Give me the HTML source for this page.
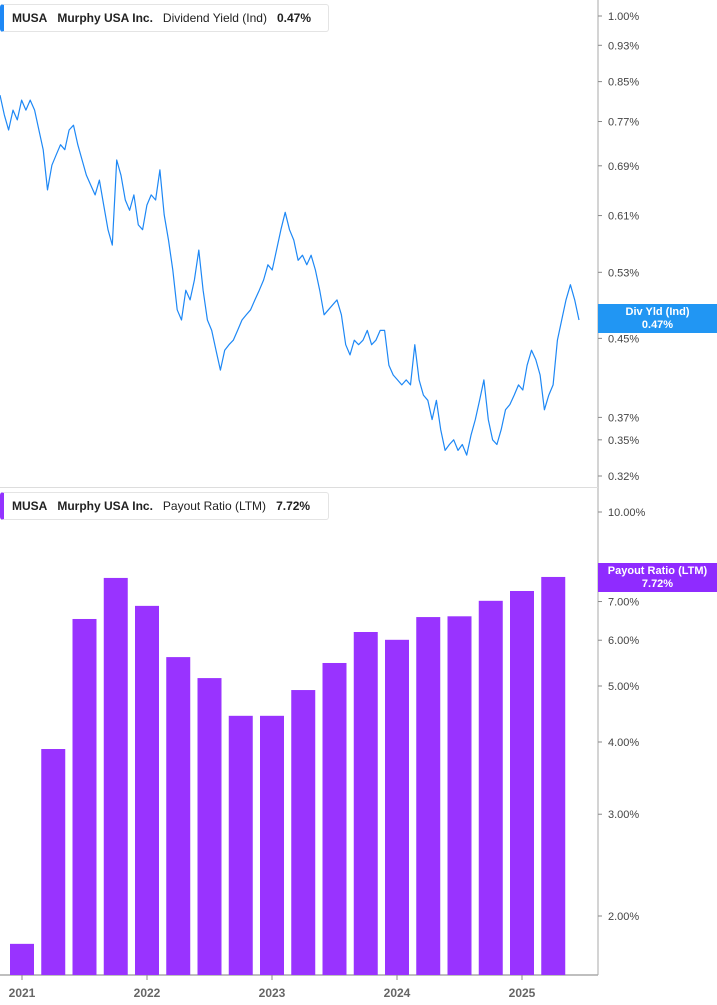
<!DOCTYPE html>
<html><head><meta charset="utf-8"><style>
body{margin:0;background:#fff;font-family:"Liberation Sans",sans-serif;}
#wrap{position:relative;width:717px;height:1005px;overflow:hidden;}
svg text{font-family:"Liberation Sans",sans-serif;}
.legend{position:absolute;left:0;height:26px;border:1px solid #e4e4e4;border-left:4px solid #1e88f5;border-radius:3px;background:#fff;font-size:12px;line-height:26px;padding:0 10px 0 8px;color:#222;white-space:nowrap;}
.legend b{margin-right:10px;}
.legend span{margin-right:10px;}
.badge{position:absolute;left:598px;width:119px;height:29px;color:#fff;font-size:11px;font-weight:bold;text-align:center;line-height:13px;padding-top:2px;box-sizing:border-box;}
</style></head><body>
<div id="wrap">
<svg id="svg" width="717" height="1005"></svg>
<div class="legend" style="top:4px;width:306px"><b>MUSA</b><b>Murphy USA Inc.</b><span>Dividend Yield (Ind)</span><b>0.47%</b></div>
<div class="legend" style="top:492px;width:306px;border-left-color:#9333ff"><b>MUSA</b><b>Murphy USA Inc.</b><span>Payout Ratio (LTM)</span><b>7.72%</b></div>
<div class="badge" style="top:304px;background:#2196f3">Div Yld (Ind)<br>0.47%</div>
<div class="badge" style="top:563px;background:#8f2bff">Payout Ratio (LTM)<br>7.72%</div>
</div>
<script>
const yieldValues=[.822,.783,.754,.792,.773,.812,.792,.812,.792,.754,.718,.650,.691,.709,.727,.718,.754,.763,.727,.700,.674,.658,.642,.666,.626,.589,.567,.700,.674,.634,.618,.642,.596,.589,.626,.642,.634,.683,.611,.574,.533,.483,.471,.507,.495,.520,.560,.507,.471,.459,.437,.416,.437,.443,.448,.459,.471,.477,.483,.495,.507,.520,.540,.533,.560,.589,.615,.589,.574,.546,.553,.540,.553,.533,.507,.477,.483,.489,.495,.477,.443,.432,.448,.443,.448,.459,.443,.448,.459,.459,.421,.411,.406,.401,.406,.401,.443,.406,.391,.386,.368,.386,.359,.341,.346,.350,.341,.346,.337,.354,.368,.386,.406,.368,.350,.346,.359,.377,.382,.391,.401,.396,.421,.437,.427,.411,.377,.391,.401,.448,.471,.495,.514,.495,.471];
const yieldStart=2020.824, yieldEnd=2025.456;
const barQuarters=["2021-Q1","2021-Q2","2021-Q3","2021-Q4","2022-Q1","2022-Q2","2022-Q3","2022-Q4","2023-Q1","2023-Q2","2023-Q3","2023-Q4","2024-Q1","2024-Q2","2024-Q3","2024-Q4","2025-Q1","2025-Q2"];
const payoutValues=[1.79,3.89,6.53,7.69,6.88,5.61,5.16,4.44,4.44,4.92,5.48,6.20,6.01,6.58,6.60,7.02,7.30,7.72];
const yieldTicks=[1.00,0.93,0.85,0.77,0.69,0.61,0.53,0.45,0.37,0.35,0.32];
const payoutTicks=[10,7,6,5,4,3,2];
const yearTicks=[2021,2022,2023,2024,2025];

const NS="http://www.w3.org/2000/svg",svg=document.getElementById('svg');
function mk(t,a,p){const e=document.createElementNS(NS,t);for(const k in a)e.setAttribute(k,a[k]);(p||svg).appendChild(e);return e;}
const xOf=y=>22+(y-2021)*125;
const yTop=v=>16-Math.log10(v)*929.6;
const yBot=v=>512+(1-Math.log10(v))*578;

// axes
let l=mk('line',{x1:598,y1:0,x2:598,y2:975,stroke:'#aaa','stroke-width':1});


l=mk('line',{x1:0,y1:487.5,x2:598,y2:487.5,stroke:'#ddd','stroke-width':1});


l=mk('line',{x1:0,y1:975,x2:598,y2:975,stroke:'#aaa','stroke-width':1.5});



yieldTicks.forEach(v=>{const y=yTop(v);
 const t=mk('line',{x1:598,y1:y,x2:602,y2:y,stroke:'#888'});
 
 
 const tx=mk('text',{x:608,y:y+4,'font-size':11,fill:'#444'});tx.textContent=v.toFixed(2)+'%';
 
 });
payoutTicks.forEach(v=>{const y=yBot(v);
 const t=mk('line',{x1:598,y1:y,x2:602,y2:y,stroke:'#888'});
 
 
 const tx=mk('text',{x:608,y:y+4,'font-size':11,fill:'#444'});tx.textContent=v.toFixed(2)+'%';
 
 });
yearTicks.forEach(yr=>{const x=xOf(yr);
 const t=mk('line',{x1:x,y1:975,x2:x,y2:980,stroke:'#888'});
 
 
 const tx=mk('text',{x:x,y:997,'font-size':12,'font-weight':'bold',fill:'#666','text-anchor':'middle'});tx.textContent=yr;
 
 });

// bars
barQuarters.forEach((q,i)=>{const [yr,qq]=q.split('-Q');const d=+yr+(+qq-1)/4;const x=xOf(d);const y=yBot(payoutValues[i]);
 const r=mk('rect',{x:x-12,y:y,width:24,height:975-y,fill:'#9933ff'});
 
 });

// line
const n=yieldValues.length;
const pts=yieldValues.map((v,i)=>{const d=yieldStart+(yieldEnd-yieldStart)*i/(n-1);return xOf(d).toFixed(1)+','+yTop(v).toFixed(1);}).join(' ');
const pl=mk('polyline',{points:pts,fill:'none',stroke:'#1e88f5','stroke-width':1.2,'stroke-linejoin':'round'});


</script>
</body></html>
